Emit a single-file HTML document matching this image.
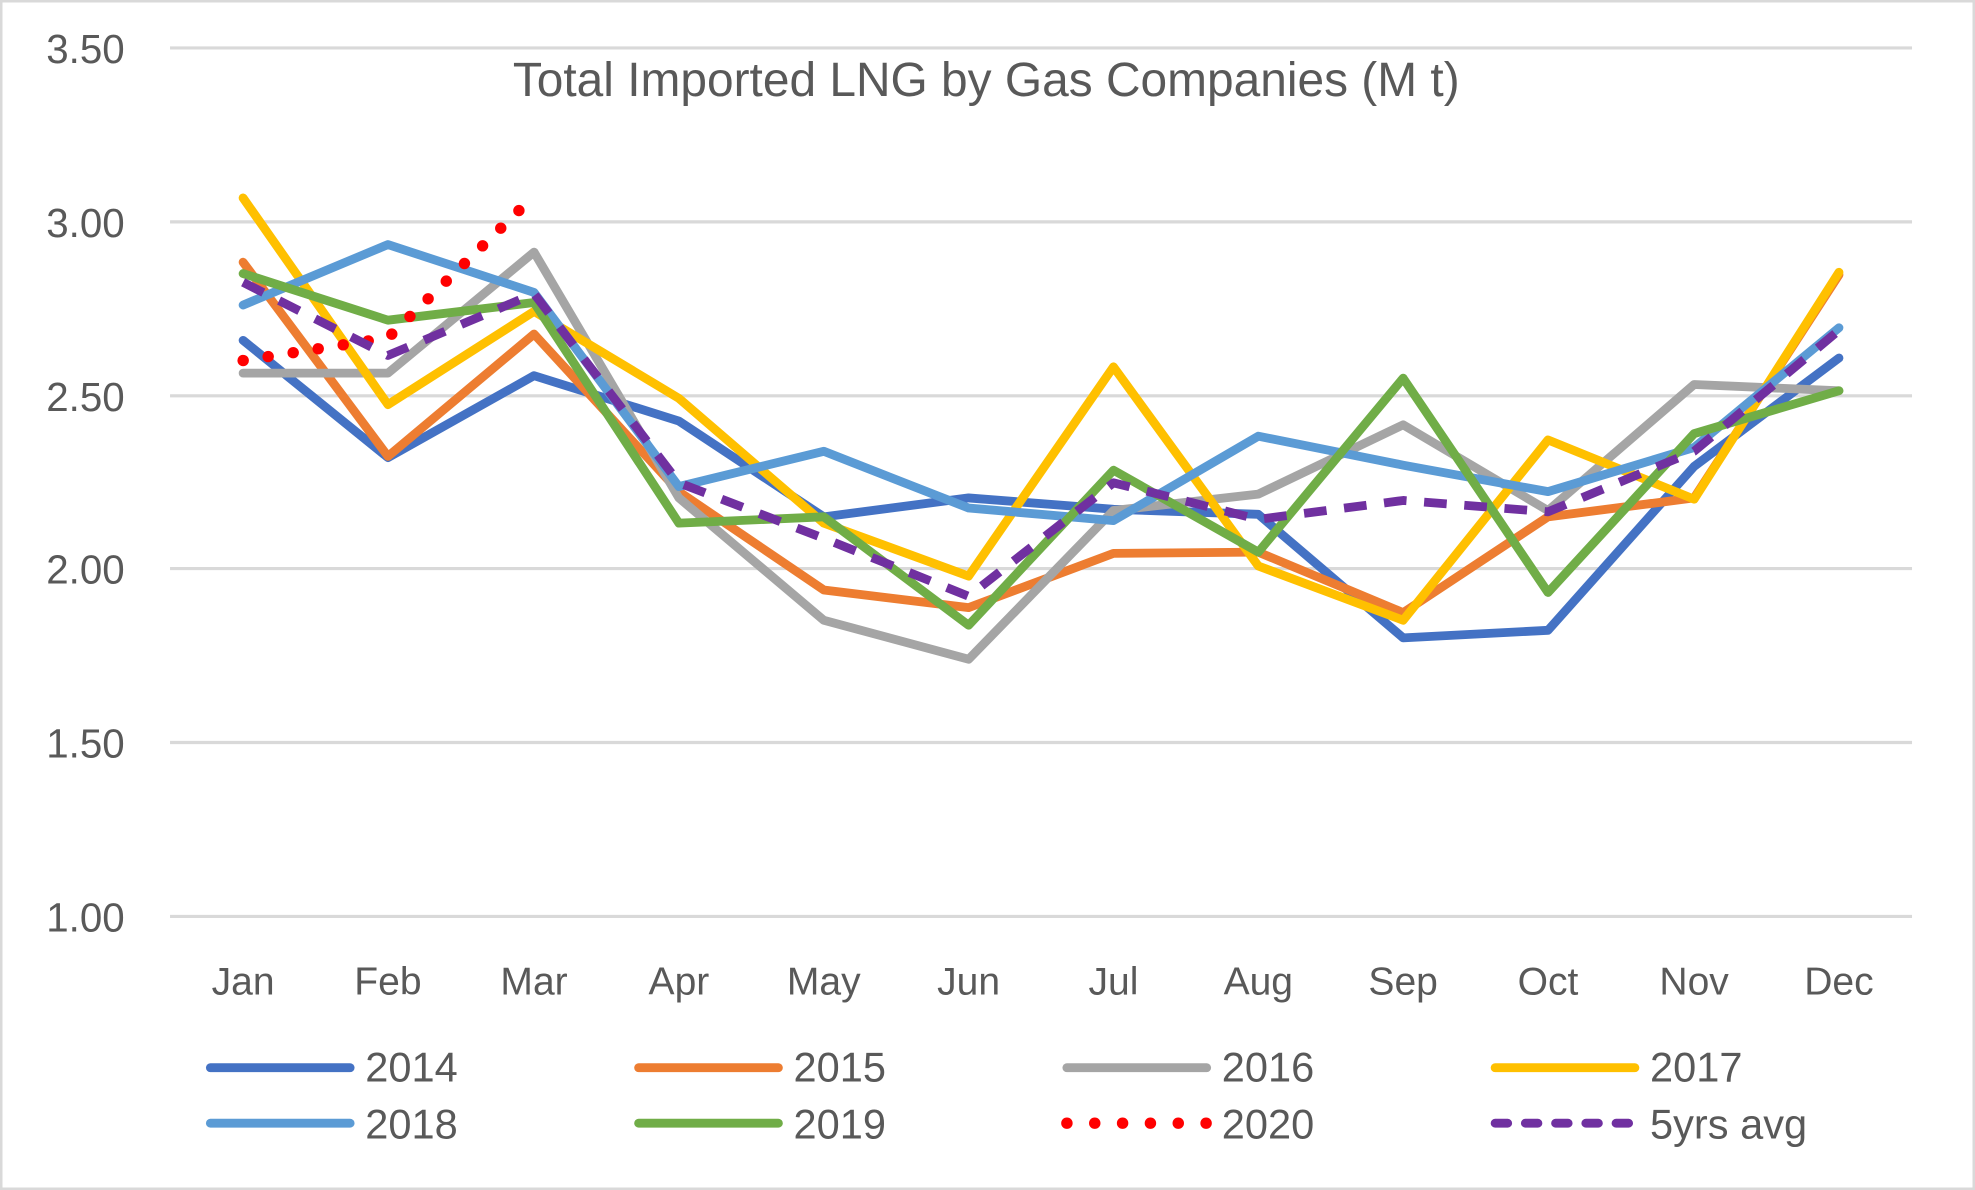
<!DOCTYPE html>
<html><head><style>html,body{margin:0;padding:0;background:#fff}svg{display:block}</style></head>
<body>
<svg width="1975" height="1190" viewBox="0 0 1568 944" preserveAspectRatio="none" xmlns="http://www.w3.org/2000/svg" font-family="'Liberation Sans', sans-serif">
<rect x="1" y="1" width="1566" height="942" fill="#fff" stroke="#d9d9d9" stroke-width="2"/>
<g stroke="#d9d9d9" stroke-width="2.5">
<line x1="135" y1="38" x2="1518" y2="38"/><line x1="135" y1="176" x2="1518" y2="176"/>
<line x1="135" y1="314" x2="1518" y2="314"/><line x1="135" y1="451" x2="1518" y2="451"/>
<line x1="135" y1="589" x2="1518" y2="589"/><line x1="135" y1="727" x2="1518" y2="727"/>
</g>
<g fill="#595959" font-size="32" text-anchor="end">
<text x="99" y="50">3.50</text><text x="99" y="188">3.00</text><text x="99" y="326">2.50</text>
<text x="99" y="463">2.00</text><text x="99" y="601">1.50</text><text x="99" y="739">1.00</text>
</g>
<text x="783" y="76" fill="#595959" font-size="38" text-anchor="middle">Total Imported LNG by Gas Companies (M t)</text>
<g fill="#595959" font-size="31" text-anchor="middle">
<text x="193" y="789">Jan</text><text x="308" y="789">Feb</text><text x="424" y="789">Mar</text><text x="539" y="789">Apr</text>
<text x="654" y="789">May</text><text x="769" y="789">Jun</text><text x="884" y="789">Jul</text><text x="999" y="789">Aug</text>
<text x="1114" y="789">Sep</text><text x="1229" y="789">Oct</text><text x="1345" y="789">Nov</text><text x="1460" y="789">Dec</text>
</g>
<g fill="none" stroke-width="7" stroke-linejoin="round" stroke-linecap="round">
<polyline stroke="#4472c4" points="193,270 308,363 424,298 539,334 654,410 769,395 884,404 999,408 1114,506 1229,500 1345,370 1460,284"/>
<polyline stroke="#ed7d31" points="193,208 308,362 424,265 539,390 654,468 769,482 884,439 999,438 1114,486 1229,410 1345,395 1460,218"/>
<polyline stroke="#a5a5a5" points="193,296 308,296 424,200 539,395 654,492 769,523 884,405 999,392 1114,337 1229,405 1345,305 1460,310"/>
<polyline stroke="#ffc000" points="193,157 308,321 424,247 539,316 654,415 769,457 884,291 999,449 1114,492 1229,349 1345,396 1460,216"/>
<polyline stroke="#5b9bd5" points="193,242 308,194 424,232 539,386 654,358 769,403 884,413 999,346 1114,369 1229,390 1345,355 1460,260"/>
<polyline stroke="#70ad47" points="193,217 308,254 424,240 539,415 654,410 769,496 884,373 999,438 1114,300 1229,470 1345,344 1460,310"/>
<polyline stroke="#ff0000" stroke-dasharray="0.1 20" stroke-width="9" points="193,286 308,268 412,167"/>
<polyline stroke="#7030a0" stroke-dasharray="18 14" stroke-linecap="butt" points="193,224 308,282 424,233 539,383 654,427 769,473 884,383 999,412 1114,397 1229,406 1345,358 1460,262"/>
</g>
<g stroke-width="7" stroke-linecap="round">
<line x1="167" y1="847" x2="278" y2="847" stroke="#4472c4"/>
<line x1="507" y1="847" x2="618" y2="847" stroke="#ed7d31"/>
<line x1="847" y1="847" x2="958" y2="847" stroke="#a5a5a5"/>
<line x1="1187" y1="847" x2="1298" y2="847" stroke="#ffc000"/>
<line x1="167" y1="891" x2="278" y2="891" stroke="#5b9bd5"/>
<line x1="507" y1="891" x2="618" y2="891" stroke="#70ad47"/>
<line x1="847" y1="891" x2="958" y2="891" stroke="#ff0000" stroke-dasharray="0.1 22" stroke-width="9"/>
<line x1="1187" y1="891" x2="1298" y2="891" stroke="#7030a0" stroke-dasharray="10 14" stroke-linecap="round"/>
</g>
<g fill="#595959" font-size="33">
<text x="290" y="858">2014</text><text x="630" y="858">2015</text><text x="970" y="858">2016</text><text x="1310" y="858">2017</text>
<text x="290" y="903">2018</text><text x="630" y="903">2019</text><text x="970" y="903">2020</text><text x="1310" y="903">5yrs avg</text>
</g>
</svg>
</body></html>
